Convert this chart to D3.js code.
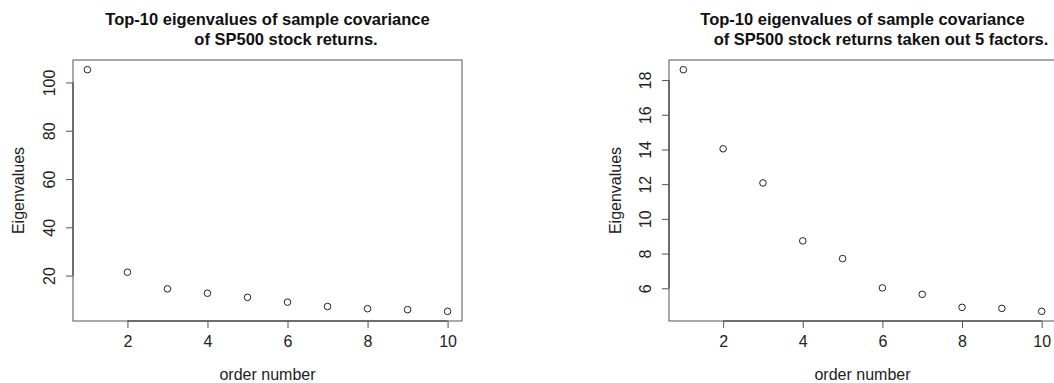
<!DOCTYPE html>
<html><head><meta charset="utf-8">
<script src="https://cdn.jsdelivr.net/npm/d3@7"></script>
<style>
body{margin:0;background:#fff;}
svg{display:block;font-family:"Liberation Sans",Arial,Helvetica,sans-serif;}
</style></head>
<body><svg id="c" width="1054" height="383"></svg>
<script>
const orderNumbers = [1,2,3,4,5,6,7,8,9,10];
const eigenRaw = [105.3, 21.4, 14.5, 12.7, 11.0, 9.0, 7.2, 6.3, 5.9, 5.2];
const eigenAdj = [18.6, 14.04, 12.07, 8.73, 7.71, 6.02, 5.65, 4.9, 4.84, 4.67];
const xTicks = [2,4,6,8,10];
const yTicksLeft = [20,40,60,80,100];
const yTicksRight = [6,8,10,12,14,16,18];
const titlesLeft = ["Top-10 eigenvalues of sample covariance", "of SP500 stock returns."];
const titlesRight = ["Top-10 eigenvalues of sample covariance", "of SP500 stock returns taken out 5 factors."];
const xLabel = "order number";
const yLabel = "Eigenvalues";

const svg = d3.select("#c");

function ext(lo, hi){ const d=(hi-lo)*0.04; return [lo-d, hi+d]; }

function panel(cfg){
  const {left,right,top,bottom,values,yTicks,titles,line2Shift,yLabX,yTickLabX} = cfg;
  const g = svg.append("g");
  const x = d3.scaleLinear().domain(ext(1,10)).range([left,right]);
  const y = d3.scaleLinear().domain(ext(d3.min(values), d3.max(values))).range([bottom,top]);

  // box
  g.append("rect").attr("x",left).attr("y",top).attr("width",right-left).attr("height",bottom-top)
    .attr("fill","none").attr("stroke","#555").attr("stroke-width",1);

  // x axis
  const xa = g.append("g").attr("transform",`translate(0,${bottom})`)
    .call(d3.axisBottom(x).tickValues(xTicks).tickSize(7).tickPadding(8).tickFormat(d3.format("d")));
  xa.select(".domain").attr("d",`M${x(xTicks[0])},0H${x(xTicks[xTicks.length-1])}`).attr("stroke","#333");
  xa.selectAll(".tick line").attr("stroke","#555");
  xa.selectAll("text").attr("font-size",16).attr("fill","#222").attr("font-family",'"Liberation Sans",Arial,sans-serif');

  // y axis
  const ya = g.append("g").attr("transform",`translate(${left},0)`)
    .call(d3.axisLeft(y).tickValues(yTicks).tickSize(7).tickFormat(d3.format("d")));
  ya.select(".domain").attr("d",`M0,${y(yTicks[0])}V${y(yTicks[yTicks.length-1])}`).attr("stroke","#333");
  ya.selectAll(".tick line").attr("stroke","#555");
  ya.selectAll("text").attr("font-size",16).attr("fill","#222").attr("font-family",'"Liberation Sans",Arial,sans-serif')
    .attr("x",null).attr("dy",null)
    .attr("text-anchor","middle")
    .attr("transform",`translate(${yTickLabX-left},0) rotate(-90)`)
    .attr("dy","0.35em");

  // points
  g.selectAll("circle.pt").data(orderNumbers).join("circle").attr("class","pt")
    .attr("cx",d=>x(d)).attr("cy",(d,i)=>y(values[i])).attr("r",3.3)
    .attr("fill","none").attr("stroke","#222").attr("stroke-width",1);

  // titles
  const cx = (left+right)/2;
  g.append("text").attr("x",cx).attr("y",25).attr("text-anchor","middle")
    .attr("font-size",16.5).attr("font-weight","bold").attr("fill","#111").text(titles[0]);
  g.append("text").attr("x",cx+line2Shift).attr("y",45).attr("text-anchor","middle")
    .attr("font-size",16.5).attr("font-weight","bold").attr("fill","#111").text(titles[1]);

  // axis labels
  g.append("text").attr("x",cx).attr("y",380).attr("text-anchor","middle")
    .attr("font-size",16).attr("fill","#222").text(xLabel);
  g.append("text").attr("transform",`translate(${yLabX},${(top+bottom)/2}) rotate(-90)`)
    .attr("text-anchor","middle").attr("dy","0.35em")
    .attr("font-size",16).attr("fill","#222").text(yLabel);
}

panel({left:73,right:462,top:60,bottom:321,values:eigenRaw,yTicks:yTicksLeft,titles:titlesLeft,line2Shift:18.5,yLabX:18,yTickLabX:49});
panel({left:669,right:1056,top:60,bottom:321,values:eigenAdj,yTicks:yTicksRight,titles:titlesRight,line2Shift:18.5,yLabX:615,yTickLabX:645});
</script></body></html>
